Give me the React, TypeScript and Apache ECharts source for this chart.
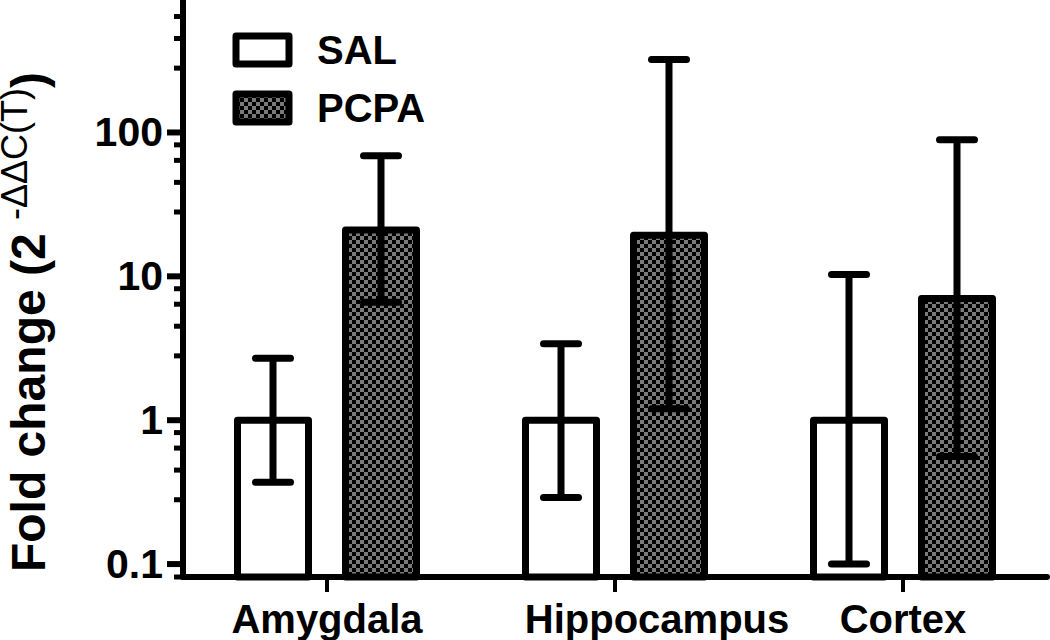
import React, { useEffect, useRef } from 'react';
import * as echarts from 'echarts';

const categories = ['Amygdala', 'Hippocampus', 'Cortex'];
const seriesNames = ['SAL', 'PCPA'];
const salMean = [1, 1, 1];
const salLow = [0.37, 0.29, 0.1];
const salHigh = [2.7, 3.4, 10.3];
const pcpaMean = [21, 19.3, 7.0];
const pcpaLow = [6.6, 1.2, 0.56];
const pcpaHigh = [69, 321, 89];

const yMin = 0.0813;
const yMax = 820;
const majorTicks = [0.1, 1, 10, 100];
const majorTickLabels = ['0.1', '1', '10', '100'];
const minorTicks = [0.0813, 0.28, 0.45, 0.64, 0.82, 2.8, 4.5, 6.4, 8.2, 28, 45, 64, 82, 280, 450, 640];

const FONT = '"Liberation Sans", Arial, Helvetica, sans-serif';
const BAR_W = 71;
const GAP = 37;
const BORDER = 7;
const ERR_W = 7;
const CAP_HALF = 17.5;

function makeChecker(): HTMLCanvasElement {
  const c = document.createElement('canvas');
  c.width = 8;
  c.height = 8;
  const ctx = c.getContext('2d')!;
  ctx.fillStyle = '#7a7a7a';
  ctx.fillRect(0, 0, 8, 8);
  ctx.fillStyle = '#000';
  ctx.fillRect(0, 0, 4, 4);
  ctx.fillRect(4, 4, 4, 4);
  return c;
}

function barRender(side: number, fill: any) {
  return (params: any, api: any) => {
    const idx = api.value(0);
    const mean = api.value(1);
    const lo = api.value(2);
    const hi = api.value(3);
    const base = api.coord([idx, yMin]);
    const top = api.coord([idx, mean]);
    const cx = base[0] + (side * (BAR_W + GAP)) / 2;
    const yLo = api.coord([idx, lo])[1];
    const yHi = api.coord([idx, hi])[1];
    const s = { stroke: '#000', lineWidth: ERR_W };
    return {
      type: 'group',
      children: [
        {
          type: 'rect',
          shape: { x: cx - BAR_W / 2, y: top[1], width: BAR_W, height: base[1] - top[1] },
          style: { fill, stroke: '#000', lineWidth: BORDER, lineJoin: 'round' },
        },
        { type: 'line', shape: { x1: cx, y1: yHi, x2: cx, y2: yLo }, style: { ...s } },
        { type: 'line', shape: { x1: cx - CAP_HALF, y1: yHi, x2: cx + CAP_HALF, y2: yHi }, style: { ...s, lineCap: 'round' } },
        { type: 'line', shape: { x1: cx - CAP_HALF, y1: yLo, x2: cx + CAP_HALF, y2: yLo }, style: { ...s, lineCap: 'round' } },
      ],
    };
  };
}

function tickRender(len: number, width: number) {
  return (params: any, api: any) => {
    const y = api.coord([0, api.value(1)])[1];
    const x = params.coordSys.x;
    return {
      type: 'line',
      shape: { x1: x - len, y1: y, x2: x, y2: y },
      style: { stroke: '#000', lineWidth: width },
    };
  };
}

export default function App() {
  const ref = useRef<HTMLDivElement>(null);
  useEffect(() => {
    document.body.style.margin = '0';
    const chart = echarts.init(ref.current!, null, { renderer: 'svg' });
    const pattern = { image: makeChecker(), repeat: 'repeat', imageWidth: 8, imageHeight: 8 };
    const salData = categories.map((_, i) => [i, salMean[i], salLow[i], salHigh[i]]);
    const pcpaData = categories.map((_, i) => [i, pcpaMean[i], pcpaLow[i], pcpaHigh[i]]);
    chart.setOption({
      animation: false,
      backgroundColor: '#fff',
      grid: { left: 183, top: 1, width: 864, height: 576, containLabel: false, outerBoundsMode: 'none' },
      legend: {
        data: seriesNames,
        orient: 'vertical',
        left: 232.5,
        top: 30,
        padding: 0,
        itemWidth: 53,
        itemHeight: 28,
        itemGap: 18,
        icon: 'rect',
        itemStyle: { borderColor: '#000', borderWidth: BORDER, borderJoin: 'round' },
        textStyle: { fontSize: 40, fontWeight: 'bold', color: '#000', fontFamily: FONT, lineHeight: 28, padding: [0, 0, 0, 23] },
        selectedMode: false,
      },
      xAxis: {
        type: 'category',
        data: categories,
        boundaryGap: true,
        axisLine: { lineStyle: { color: '#000', width: 6 } },
        axisTick: { show: true, alignWithLabel: true, length: 15, lineStyle: { color: '#000', width: 4 } },
        axisLabel: {
          interval: 0,
          hideOverlap: false,
          color: '#000',
          fontSize: 40,
          fontWeight: 'bold',
          fontFamily: FONT,
          margin: 22,
          formatter: (v: string) => (v === 'Hippocampus' ? '{h|' + v + '}' : v),
          rich: { h: { fontSize: 40, fontWeight: 'bold', fontFamily: FONT, color: '#000', padding: [0, 0, 0, 84] } },
        },
        splitLine: { show: false },
      },
      yAxis: {
        type: 'log',
        logBase: 10,
        min: yMin,
        max: yMax,
        name: '{a|Fold change (2 }{b|-ΔΔC(T)}{a|)}',
        nameLocation: 'middle',
        nameRotate: 90,
        nameGap: 131,
        nameTextStyle: {
          padding: [0, 66, 0, 0],
          rich: {
            a: { fontSize: 48, fontWeight: 'bold', fontFamily: FONT, color: '#000', lineHeight: 56, verticalAlign: 'bottom' },
            b: { fontSize: 36, fontFamily: FONT, color: '#000', lineHeight: 40, verticalAlign: 'top' },
          },
        },
        axisLine: { show: true, lineStyle: { color: '#000', width: 6 } },
        axisTick: { show: false },
        minorTick: { show: false },
        splitLine: { show: false },
        axisLabel: {
          color: '#000',
          fontSize: 41,
          fontWeight: 'bold',
          fontFamily: FONT,
          margin: 20,
          showMinLabel: false,
          showMaxLabel: false,
          formatter: (v: number) => {
            const i = majorTicks.findIndex((m) => Math.abs(Math.log10(v) - Math.log10(m)) < 1e-6);
            return i >= 0 ? majorTickLabels[i] : '';
          },
        },
      },
      series: [
        {
          name: 'SAL',
          type: 'custom',
          renderItem: barRender(-1, '#fff'),
          data: salData,
          encode: { x: 0, y: [1, 2, 3] },
          itemStyle: { color: '#fff', borderColor: '#000', borderWidth: BORDER },
          clip: false,
          z: 3,
        },
        {
          name: 'PCPA',
          type: 'custom',
          renderItem: barRender(1, pattern),
          data: pcpaData,
          encode: { x: 0, y: [1, 2, 3] },
          itemStyle: { color: pattern, borderColor: '#000', borderWidth: BORDER },
          clip: false,
          z: 3,
        },
        {
          name: 'majorTicks',
          type: 'custom',
          renderItem: tickRender(16, 6),
          data: majorTicks.map((v) => [0, v]),
          encode: { x: 0, y: 1 },
          clip: false,
          silent: true,
          z: 4,
        },
        {
          name: 'minorTicks',
          type: 'custom',
          renderItem: tickRender(9, 5),
          data: minorTicks.map((v) => [0, v]),
          encode: { x: 0, y: 1 },
          clip: false,
          silent: true,
          z: 4,
        },
      ],
    });
    return () => chart.dispose();
  }, []);
  return <div ref={ref} style={{ width: 1050, height: 640 }} />;
}
